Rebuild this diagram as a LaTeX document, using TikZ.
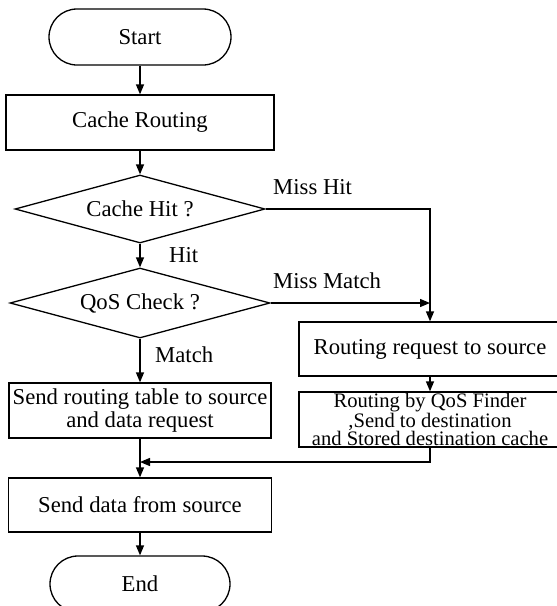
\documentclass[tikz,border=0pt]{standalone}
\usepackage{fontspec}
\setmainfont{Liberation Serif}
\usetikzlibrary{shapes.geometric,arrows.meta}

\tikzset{
  base/.style={draw=black, line width=1.3pt, inner sep=0pt, align=center,
    font=\fontsize{22.7}{23}\selectfont},
  terminal/.style={base, rectangle, rounded corners=28pt, minimum width=182pt, minimum height=56pt},
  process/.style={base, rectangle, minimum height=55pt},
  decision/.style={base, diamond, aspect=3.8},
  flow/.style={line width=1.3pt, -{Triangle[length=10pt,width=8pt]}},
  plain/.style={line width=1.3pt},
  lbl/.style={anchor=base west, inner sep=0pt, font=\fontsize{22.7}{23}\selectfont}
}

\begin{document}
\begin{tikzpicture}[x=1pt,y=-1pt]
  \fill[white] (0,0) rectangle (557,606);
  \useasboundingbox (0,0) rectangle (557,606);

  % main column
  \node[terminal] (start) at (140,37) {Start};
  \node[process, minimum width=268pt] (cr) at (140,122.5) {Cache Routing};
  \node[decision, minimum width=250pt, minimum height=68pt] (ch) at (140,209) {Cache Hit ?};
  \node[decision, minimum width=260pt, minimum height=70pt] (qc) at (140,303) {QoS Check ?};
  \node[process, minimum width=262pt] (srt) at (140,410.5) {Send routing table to source\\and data request};
  \node[process, minimum width=263pt, minimum height=54pt] (sd) at (140,505) {Send data from source};
  \node[terminal, minimum width=180pt] (end) at (140,584) {End};

  % side column
  \node[process, minimum width=262pt, minimum height=54pt] (rr) at (430,349) {Routing request to source};
  \node[process, minimum width=262pt, font=\fontsize{20.6}{17.5}\selectfont] (qf) at (430,419.5)
    {Routing by QoS Finder\\,Send to destination\\and Stored destination cache};

  \coordinate (join) at (140,462);

  % connectors
  \draw[flow] (start) -- (cr);
  \draw[flow] (cr) -- (ch);
  \draw[flow] (ch.south) -- (qc.north);
  \draw[flow] (qc.south) -- (srt.north);
  \draw[flow] (srt) -- (sd);
  \draw[flow] (sd) -- (end);
  \draw[flow] (ch.east) -| (rr.north);
  \draw[flow] (qc.east) -- (qc.east -| rr.north);
  \draw[flow] (rr) -- (qf);
  \draw[flow] (qf.south) |- (join);

  % branch labels
  \node[lbl] (lmisshit) at (273,194) {Miss Hit};
  \node[lbl] (lhit) at (169,262) {Hit};
  \node[lbl] (lmissmatch) at (273,288) {Miss Match};
  \node[lbl] (lmatch) at (155,362) {Match};
\end{tikzpicture}
\end{document}
